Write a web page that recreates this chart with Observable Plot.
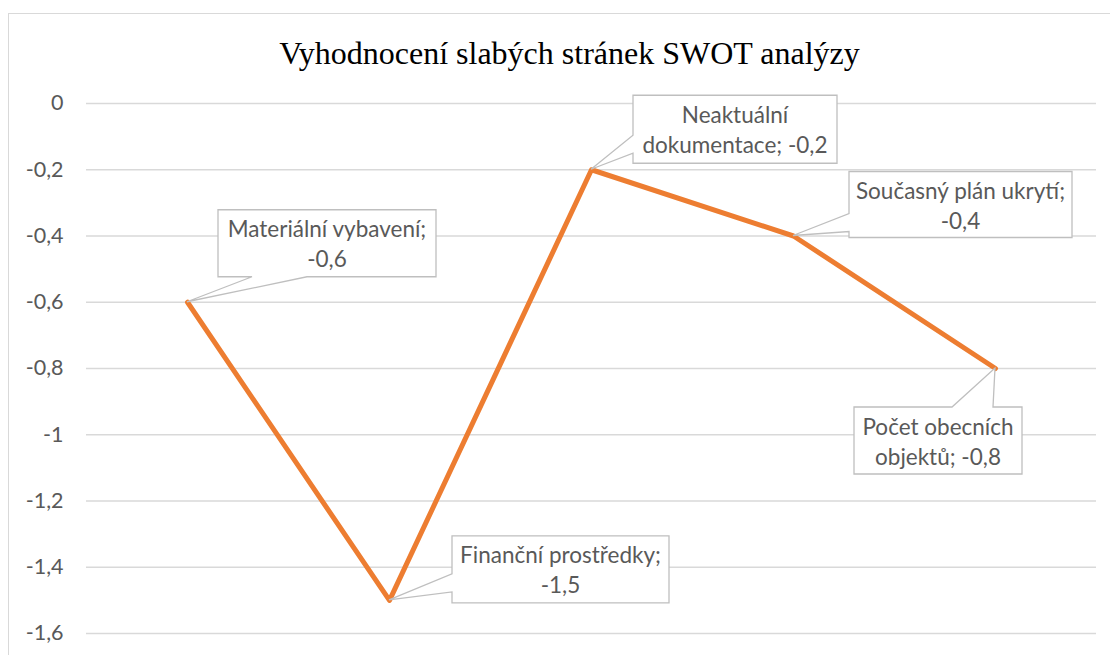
<!DOCTYPE html>
<html>
<head>
<meta charset="utf-8">
<script src="https://cdn.jsdelivr.net/npm/d3@7"></script>
<script src="https://cdn.jsdelivr.net/npm/@observablehq/plot@0.6"></script>
<style>
  html, body { margin: 0; padding: 0; background: #fff; }
  #wrap { position: relative; width: 1110px; height: 655px; overflow: hidden; }
  #border { position: absolute; left: 8px; top: 13px; width: 1200px; height: 800px;
            border: 1.5px solid #d9d9d9; pointer-events: none; box-sizing: border-box; }
  #wrap svg { position: absolute; left: 0; top: 0; }
</style>
</head>
<body>
<div id="wrap"><div id="border"></div></div>
<script>
// ---- data ----
const titleText = "Vyhodnocení slabých stránek SWOT analýzy";
const categories = ["Materiální vybavení", "Finanční prostředky", "Neaktuální dokumentace", "Současný plán ukrytí", "Počet obecních objektů"];
const values = [-0.6, -1.5, -0.2, -0.4, -0.8];
const yTicks = [0, -0.2, -0.4, -0.6, -0.8, -1, -1.2, -1.4, -1.6];

// ---- layout of callouts (pixel offsets from the data point) ----
const callouts = [
  {dx: 31, dy: -92, w: 218, h: 67, side: "bottom", a: 34, b: 89, wrap: 2},
  {dx: 63, dy: -64, w: 217, h: 67, side: "left", a: 38, b: 56, wrap: 2},
  {dx: 42, dy: -74, w: 204, h: 68, side: "left", a: 40, b: 58, wrap: 1},
  {dx: 56, dy: -64, w: 223, h: 66, side: "left", a: 42, b: 60, wrap: 3},
  {dx: -141, dy: 39, w: 168, h: 67, side: "top", a: 98, b: 139, wrap: 2}
];

const fmt = d => String(d).replace(".", ",");
const table = categories.map((c, i) => ({cat: c, val: values[i]}));

const labelFont = "Lato, 'Noto Sans', sans-serif";
const textColor = "#595959";

function calloutMark(index, scales) {
  const g = d3.create("svg:g");
  table.forEach((d, i) => {
    const L = callouts[i];
    const px = scales.x(d.cat), py = scales.y(d.val);
    const l = px + L.dx, t = py + L.dy, r = l + L.w, b = t + L.h;
    let p;
    if (L.side === "left") {
      p = `M${l},${t}H${r}V${b}H${l}V${t + L.b}L${px},${py}L${l},${t + L.a}Z`;
    } else if (L.side === "bottom") {
      p = `M${l},${t}H${r}V${b}H${l + L.b}L${px},${py}L${l + L.a},${b}H${l}Z`;
    } else {
      p = `M${l},${t}H${l + L.a}L${px},${py}L${l + L.b},${t}H${r}V${b}H${l}Z`;
    }
    g.append("path").attr("d", p).attr("fill", "#fff")
      .attr("stroke", "#bfbfbf").attr("stroke-width", 1.3).attr("stroke-linejoin", "miter");
    const words = `${d.cat}; ${fmt(d.val)}`.split(" ");
    const lines = [words.slice(0, L.wrap).join(" "), words.slice(L.wrap).join(" ")];
    lines.forEach((s, k) => {
      g.append("text").attr("x", (l + r) / 2).attr("y", t + 27.5 + k * 30)
        .attr("text-anchor", "middle").attr("fill", textColor)
        .attr("font-family", labelFont).attr("font-size", 22.5).text(s);
    });
  });
  return g.node();
}

const chart = Plot.plot({
  width: 1110,
  height: 655,
  marginLeft: 86,
  marginRight: 14,
  marginTop: 103,
  marginBottom: 22,
  style: {background: "transparent", color: textColor, fontFamily: labelFont, fontSize: "21px"},
  x: {type: "point", domain: categories, padding: 0.5, axis: null},
  y: {domain: [-1.6, 0], axis: null},
  marks: [
    Plot.ruleY(yTicks, {stroke: "#d9d9d9", strokeWidth: 1.5}),
    Plot.axisY({ticks: yTicks, tickSize: 0, tickPadding: 23, tickFormat: fmt, fontSize: 21.5, label: null}),
    Plot.line(table, {x: "cat", y: "val", stroke: "#ED7D31", strokeWidth: 5, strokeLinejoin: "round", strokeLinecap: "round"}),
    calloutMark,
    Plot.text([titleText], {frameAnchor: "top", dx: -22, dy: -50, lineAnchor: "middle",
      fontFamily: "'Liberation Serif', 'Times New Roman', serif", fontSize: 32, fill: "#000"})
  ]
});
document.getElementById("wrap").insertBefore(chart, document.getElementById("border"));
</script>
</body>
</html>
